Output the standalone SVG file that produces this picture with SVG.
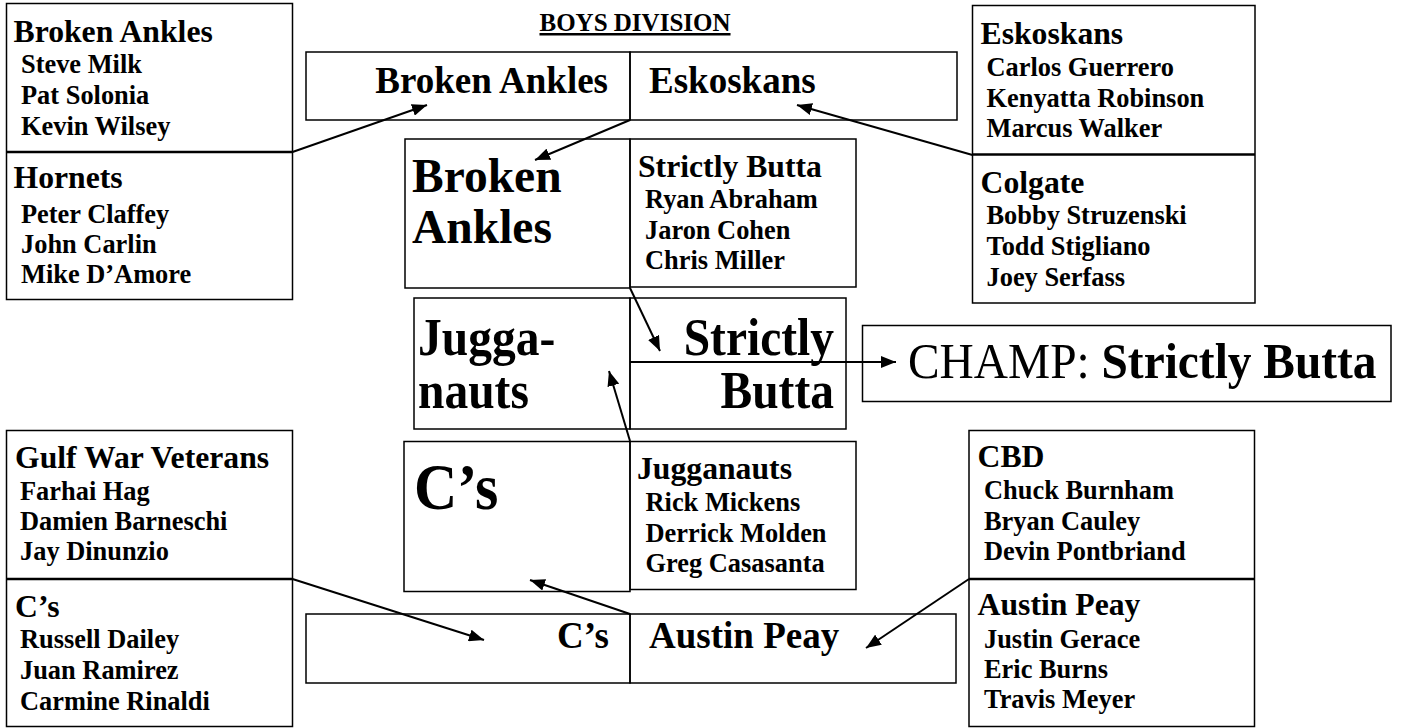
<svg xmlns="http://www.w3.org/2000/svg" width="1411" height="728" viewBox="0 0 1411 728">
<style>
.bx{fill:none;stroke:#000;stroke-width:1.5}
.dv{stroke:#000;stroke-width:2.5}
.t{font-family:"Liberation Serif","Times New Roman",serif;font-weight:bold;fill:#000}
.h{font-size:31.7px}
.p{font-size:26.4px}
.b{font-size:37px}
.g{font-size:47.5px}
.c{font-size:60px}
.ti{font-size:25px;text-decoration:underline}
.e{text-anchor:end}
.cn{fill:none;stroke:#000;stroke-width:2}
</style>
<defs>
<marker id="ah" markerUnits="userSpaceOnUse" markerWidth="16" markerHeight="12" refX="15" refY="6" orient="auto">
<path d="M0,0 L15,6 L0,12 z" fill="#000"/>
</marker>
</defs>
<rect width="1411" height="728" fill="#fff"/>

<g id="title">
<text class="t ti" x="635" y="31" text-anchor="middle">BOYS DIVISION</text>
</g>

<g id="box-top-left">
<rect class="bx" x="6.5" y="3.5" width="286" height="296"/>
<line class="dv" x1="6.5" y1="152" x2="292.5" y2="152"/>
<text class="t h" x="13.5" y="41.5">Broken Ankles</text>
<text class="t p" x="21" y="73">Steve Milk</text>
<text class="t p" x="21" y="104">Pat Solonia</text>
<text class="t p" x="21" y="135">Kevin Wilsey</text>
<text class="t h" x="13.5" y="188">Hornets</text>
<text class="t p" x="21" y="222.5">Peter Claffey</text>
<text class="t p" x="21" y="253">John Carlin</text>
<text class="t p" x="21" y="283">Mike D’Amore</text>
</g>

<g id="box-top-right">
<rect class="bx" x="972.5" y="5.5" width="282.5" height="297.5"/>
<line class="dv" x1="972.5" y1="154.5" x2="1255" y2="154.5"/>
<text class="t h" x="980.5" y="44.3">Eskoskans</text>
<text class="t p" x="986.5" y="76">Carlos Guerrero</text>
<text class="t p" x="986.5" y="106.7">Kenyatta Robinson</text>
<text class="t p" x="986.5" y="137.3">Marcus Walker</text>
<text class="t h" x="980.5" y="192.7">Colgate</text>
<text class="t p" x="986.5" y="224">Bobby Struzenski</text>
<text class="t p" x="986.5" y="255">Todd Stigliano</text>
<text class="t p" x="986.5" y="285.7">Joey Serfass</text>
</g>

<g id="box-bottom-left">
<rect class="bx" x="6.5" y="430.5" width="286" height="296"/>
<line class="dv" x1="6.5" y1="579" x2="292.5" y2="579"/>
<text class="t h" x="15" y="468.3">Gulf War Veterans</text>
<text class="t p" x="20" y="500">Farhai Hag</text>
<text class="t p" x="20" y="530">Damien Barneschi</text>
<text class="t p" x="20" y="560">Jay Dinunzio</text>
<text class="t h" x="15" y="616.7">C’s</text>
<text class="t p" x="20" y="648.3">Russell Dailey</text>
<text class="t p" x="20" y="679.3">Juan Ramirez</text>
<text class="t p" x="20" y="710">Carmine Rinaldi</text>
</g>

<g id="box-bottom-right">
<rect class="bx" x="969" y="430.5" width="285.5" height="296"/>
<line class="dv" x1="969" y1="579" x2="1254.5" y2="579"/>
<text class="t h" x="977.6" y="466.7">CBD</text>
<text class="t p" x="984" y="499.3">Chuck Burnham</text>
<text class="t p" x="984" y="530">Bryan Cauley</text>
<text class="t p" x="984" y="560">Devin Pontbriand</text>
<text class="t h" x="977.6" y="615">Austin Peay</text>
<text class="t p" x="984" y="648.3">Justin Gerace</text>
<text class="t p" x="984" y="678">Eric Burns</text>
<text class="t p" x="984" y="708">Travis Meyer</text>
</g>

<g id="match-top">
<rect class="bx" x="306" y="52" width="324" height="68"/>
<rect class="bx" x="630" y="52" width="327" height="68"/>
<text class="t b e" x="608" y="93">Broken Ankles</text>
<text class="t b" x="649" y="93">Eskoskans</text>
</g>

<g id="semi-top">
<rect class="bx" x="405" y="139" width="225" height="149"/>
<rect class="bx" x="630" y="139" width="226" height="148"/>
<text class="t g" x="412" y="192">Broken</text>
<text class="t g" x="412" y="243">Ankles</text>
<text class="t h" x="638" y="177">Strictly Butta</text>
<text class="t p" x="645" y="207.5">Ryan Abraham</text>
<text class="t p" x="645" y="238.5">Jaron Cohen</text>
<text class="t p" x="645" y="269">Chris Miller</text>
</g>

<g id="final">
<rect class="bx" x="414" y="298" width="216" height="131"/>
<rect class="bx" x="630" y="298" width="216" height="131"/>
<text class="t g" transform="translate(418 355) scale(1 1.1)">Jugga-</text>
<text class="t g" transform="translate(418 408) scale(1 1.1)">nauts</text>
<text class="t g e" transform="translate(834 355) scale(1 1.1)">Strictly</text>
<text class="t g e" transform="translate(834 408) scale(1 1.1)">Butta</text>
</g>

<g id="semi-bottom">
<rect class="bx" x="404" y="441.5" width="226" height="150"/>
<rect class="bx" x="630" y="441.5" width="226" height="148"/>
<text class="t c" transform="translate(414 509) scale(1 1.1)">C’s</text>
<text class="t h" x="637" y="479.3">Jugganauts</text>
<text class="t p" x="645.5" y="510.7">Rick Mickens</text>
<text class="t p" x="645.5" y="541.7">Derrick Molden</text>
<text class="t p" x="645.5" y="571.7">Greg Casasanta</text>
</g>

<g id="match-bottom">
<rect class="bx" x="306" y="614" width="324" height="69"/>
<rect class="bx" x="630" y="614" width="326" height="69"/>
<text class="t b e" x="609" y="648">C’s</text>
<text class="t b" x="649" y="648">Austin Peay</text>
</g>

<g id="champ">
<rect class="bx" x="862.5" y="325.5" width="528.5" height="76"/>
<text font-family="Liberation Serif, Times New Roman, serif" font-size="47.4" transform="translate(908 378) scale(1 1.05)">CHAMP: <tspan font-weight="bold">Strictly Butta</tspan></text>
</g>

<g id="connectors">
<line class="cn" x1="292.5" y1="152" x2="427" y2="105" marker-end="url(#ah)"/>
<line class="cn" x1="630" y1="120" x2="535" y2="160" marker-end="url(#ah)"/>
<line class="cn" x1="972.5" y1="155" x2="797" y2="105" marker-end="url(#ah)"/>
<line class="cn" x1="630" y1="288" x2="660" y2="351" marker-end="url(#ah)"/>
<line class="cn" x1="630" y1="441" x2="609" y2="371" marker-end="url(#ah)"/>
<line class="cn" x1="630" y1="362" x2="896" y2="362" marker-end="url(#ah)"/>
<line class="cn" x1="292.5" y1="579" x2="484" y2="640" marker-end="url(#ah)"/>
<line class="cn" x1="630" y1="614" x2="530" y2="580" marker-end="url(#ah)"/>
<line class="cn" x1="969" y1="579" x2="866" y2="648" marker-end="url(#ah)"/>
</g>
</svg>
